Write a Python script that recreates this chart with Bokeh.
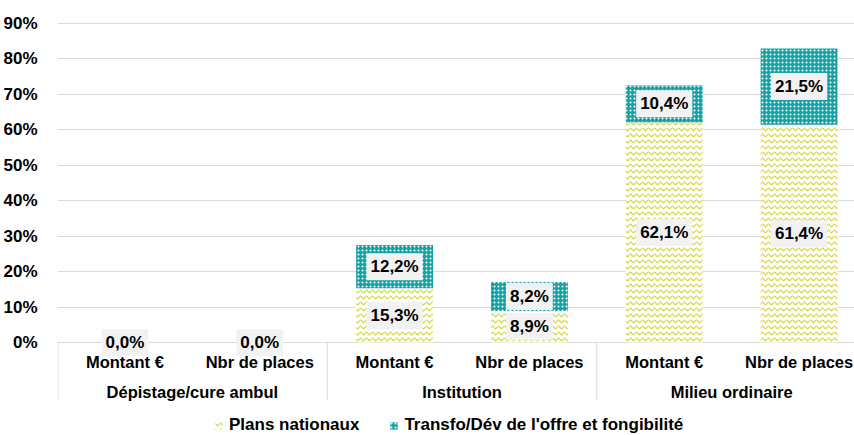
from bokeh.plotting import figure
from bokeh.models import (ColumnDataSource, Range1d, FixedTicker, PrintfTickFormatter,
                          Legend, LegendItem)
from bokeh.core.properties import value
from bokeh.embed import file_html
from bokeh.resources import INLINE

groups = ["Dépistage/cure ambul", "Institution", "Milieu ordinaire"]
subcats = ["Montant €", "Nbr de places"]
plans = [0.0, 0.0, 15.3, 8.9, 62.1, 61.4]
transfo = [0.0, 0.0, 12.2, 8.2, 10.4, 21.5]
y_ticks = [0, 10, 20, 30, 40, 50, 60, 70, 80, 90]
series_names = ["Plans nationaux", "Transfo/Dév de l'offre et fongibilité"]

FONT = "Liberation Sans"
TEAL = "#17a0a5"
YEL = "#d3d832"
GRID = "#d9d9d9"

def fmt(v):
    return f"{v:.1f}".replace(".", ",") + "%"

n = len(plans)
xs = list(range(n))
sub_labels = [subcats[i % 2] for i in range(n)]
src = ColumnDataSource(dict(
    x=xs,
    p_bot=[0.0] * n,
    p_top=plans,
    t_bot=plans,
    t_top=[a + b for a, b in zip(plans, transfo)],
    p_mid=[a / 2 for a in plans],
    p_lab=[fmt(v) for v in plans],
))
t_idx = [i for i in range(n) if transfo[i] > 0]
src_t = ColumnDataSource(dict(
    x=[xs[i] for i in t_idx],
    t_mid=[plans[i] + transfo[i] / 2 for i in t_idx],
    t_lab=[fmt(transfo[i]) for i in t_idx],
))

W, H = 854, 435
LEFT, TOP = 56, 15
p = figure(width=W, height=H, output_backend="svg", toolbar_location=None,
           x_range=Range1d(-0.5, -0.5 + (W - LEFT) / 135), y_range=Range1d(-26.2, 92.2),
           min_border_left=LEFT, min_border_right=0, min_border_top=TOP, min_border_bottom=0)
p.outline_line_color = None
p.background_fill_color = "white"
p.border_fill_color = "white"
p.xaxis.visible = False
p.xgrid.grid_line_color = None
p.ygrid.grid_line_color = GRID
p.ygrid.grid_line_width = 1
p.yaxis.ticker = FixedTicker(ticks=y_ticks)
p.yaxis.formatter = PrintfTickFormatter(format="%d%%")
p.yaxis.axis_line_color = None
p.yaxis.major_tick_line_color = None
p.yaxis.minor_tick_line_color = None
p.yaxis.major_label_text_font = FONT
p.yaxis.major_label_text_font_style = "bold"
p.yaxis.major_label_text_font_size = "17px"
p.yaxis.major_label_text_color = "#000000"
p.yaxis.major_label_standoff = 14

BW = 0.57
r1 = p.vbar(x="x", bottom="p_bot", top="p_top", width=BW, source=src,
            fill_color="white", line_color=None,
            hatch_pattern="horizontal_wave", hatch_color=YEL, hatch_scale=6, hatch_weight=1.2)
r2 = p.vbar(x="x", bottom="t_bot", top="t_top", width=BW, source=src,
            fill_color=TEAL, line_color=None,
            hatch_pattern="dot", hatch_color="white", hatch_scale=4, hatch_weight=1.3)

# category table
sep_x = [-0.497, 1.5, 3.5]
p.segment(x0=sep_x, y0=[0] * 3, x1=sep_x, y1=[-16.3] * 3, line_color=GRID, line_width=1)
p.text(x=xs, y=[-5.5] * n, text=sub_labels, text_font=value(FONT), text_font_style="bold",
       text_font_size="16.5px", text_align="center", text_baseline="middle", text_color="black")
p.text(x=[0.5, 2.5, 4.5], y=[-14.0] * 3, text=groups, text_font=value(FONT),
       text_font_style="bold", text_font_size="16.5px", text_align="center",
       text_baseline="middle", text_color="black")

lab_kw = dict(text_font=value(FONT), text_font_style="bold", text_font_size="17px",
              text_align="center", text_baseline="middle", text_color="black",
              background_fill_color="#f2f2f2", padding=4)
p.text(x="x", y="p_mid", text="p_lab", source=src, **lab_kw)
p.text(x="x", y="t_mid", text="t_lab", source=src_t, **lab_kw)

legend = Legend(items=[LegendItem(label=series_names[0], renderers=[r1]),
                       LegendItem(label=series_names[1], renderers=[r2])],
                location=(157, 0), orientation="horizontal",
                border_line_color=None, background_fill_alpha=0,
                label_text_font=FONT, label_text_font_style="bold", label_text_font_size="17px",
                label_text_color="black",
                glyph_width=9, glyph_height=9, label_standoff=6, spacing=30, padding=0,
                margin=0)
p.add_layout(legend)

open("out.html", "w").write(file_html(p, INLINE))
